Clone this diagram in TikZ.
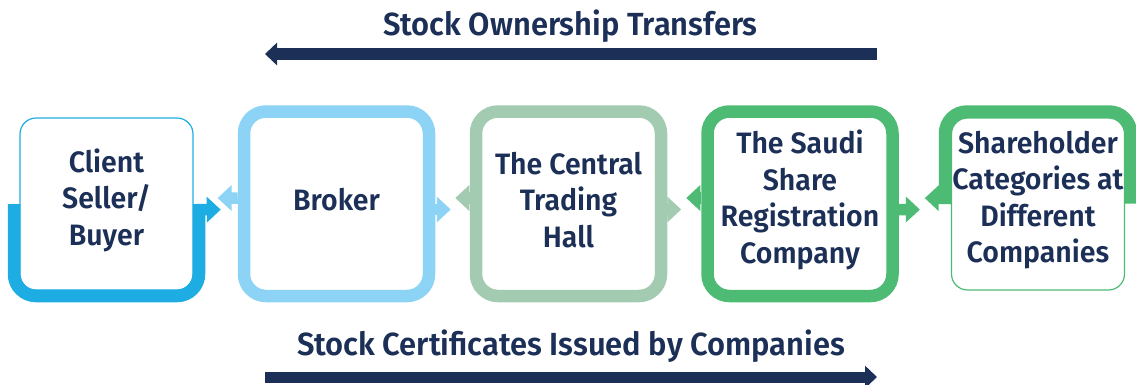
\documentclass[tikz,border=0pt]{standalone}
\usepackage{fontspec}
\setmainfont{Fira Sans}[BoldFont={Fira Sans SemiBold}, FakeStretch=0.965]
\usetikzlibrary{arrows.meta}

\definecolor{navy}{HTML}{1B2F57}
\definecolor{clientblue}{HTML}{1EADE3}
\definecolor{brokerblue}{HTML}{8CD3F5}
\definecolor{hallgreen}{HTML}{A3CBB1}
\definecolor{saudigreen}{HTML}{4DBB73}

\tikzset{
  boxframe/.style={draw=#1, line width=12.5pt, rounded corners=22pt,
    minimum width=185pt, minimum height=184.5pt},
  thinbox/.style={draw=#1, line width=1.2pt, rounded corners=16pt,
    minimum width=173pt, minimum height=172pt},
  boxtext/.style={text=navy, align=center, font=\bfseries\fontsize{29.5}{36.5}\selectfont},
  halfframe/.style={draw=#1, line width=12.5pt, rounded corners=22pt},
  flowarr/.style={draw=#1, line width=11.5pt, -{Triangle[length=14pt,width=25pt]}},
  title/.style={text=navy, font=\bfseries\fontsize{32}{38}\selectfont, anchor=base},
  bigarr/.style={draw=navy, line width=12pt, -{Triangle[length=12pt,width=22pt]}}
}

\begin{document}
\begin{tikzpicture}[x=1pt,y=-1pt]
\useasboundingbox (0,0) rectangle (1136,384);

% titles and the two long arrows
\node[title] (own) at (570.5,35) {Stock Ownership Transfers};
\node[title] (cert) at (571,355) {Stock Certificates Issued by Companies};
\coordinate (own r) at (877,54);
\coordinate (own l) at (265,54);
\coordinate (cert l) at (265,377);
\coordinate (cert r) at (877,377);
\draw[bigarr] (own r) -- (own l);
\draw[bigarr, line width=11pt] (cert l) -- (cert r);

% half frames of the two end boxes
\draw[halfframe=clientblue] (14,204) -- (14,296) -- (199,296) -- (199,204);
\draw[halfframe=saudigreen] (945,204) -- (945,111.5) -- (1131,111.5) -- (1131,203.5);

% boxes
\node[thinbox=clientblue] (client) at (106.5,204) {};
\node[boxframe=brokerblue] (broker) at (336.5,203.75) {};
\node[boxframe=hallgreen] (hall) at (568.5,203.75) {};
\node[boxframe=saudigreen] (saudi) at (800,203.75) {};
\node[thinbox=saudigreen] (holders) at (1038,204) {};

% box texts
\node[boxtext] (client text) at ([yshift=4pt]client) {Client\\Seller/\\Buyer};
\node[boxtext] (broker text) at ([yshift=4pt]broker) {Broker};
\node[boxtext] (hall text) at ([yshift=4pt]hall) {The Central\\Trading\\Hall};
\node[boxtext] (saudi text) at ([yshift=4pt]saudi) {The Saudi\\Share\\Registration\\Company};
\node[boxtext] (holders text) at ([yshift=4pt]holders) {Shareholder\\Categories at\\Different\\Companies};

% arrows to the right
\draw[flowarr=clientblue, shorten >=17pt] ([yshift=-5.75pt]client.east) -- ([yshift=-5.75pt]broker.west);
\draw[flowarr=brokerblue, shorten >=19pt] ([yshift=-5.75pt]broker.east) -- ([yshift=-5.75pt]hall.west);
\draw[flowarr=hallgreen, shorten >=20pt] ([yshift=-5.75pt]hall.east) -- ([yshift=-5.75pt]saudi.west);
\draw[flowarr=saudigreen, shorten >=31pt] ([yshift=-5.75pt]saudi.east) -- ([yshift=-5.75pt]holders.west);

% arrows to the left
\draw[flowarr=brokerblue, shorten >=24pt] ([yshift=5.75pt]broker.west) -- ([yshift=5.75pt]client.east);
\draw[flowarr=hallgreen, shorten >=20pt] ([yshift=5.75pt]hall.west) -- ([yshift=5.75pt]broker.east);
\draw[flowarr=saudigreen, shorten >=19pt] ([yshift=5.75pt]saudi.west) -- ([yshift=5.75pt]hall.east);
\draw[flowarr=saudigreen, shorten >=26pt] ([yshift=5.75pt]holders.west) -- ([yshift=5.75pt]saudi.east);
\end{tikzpicture}
\end{document}
